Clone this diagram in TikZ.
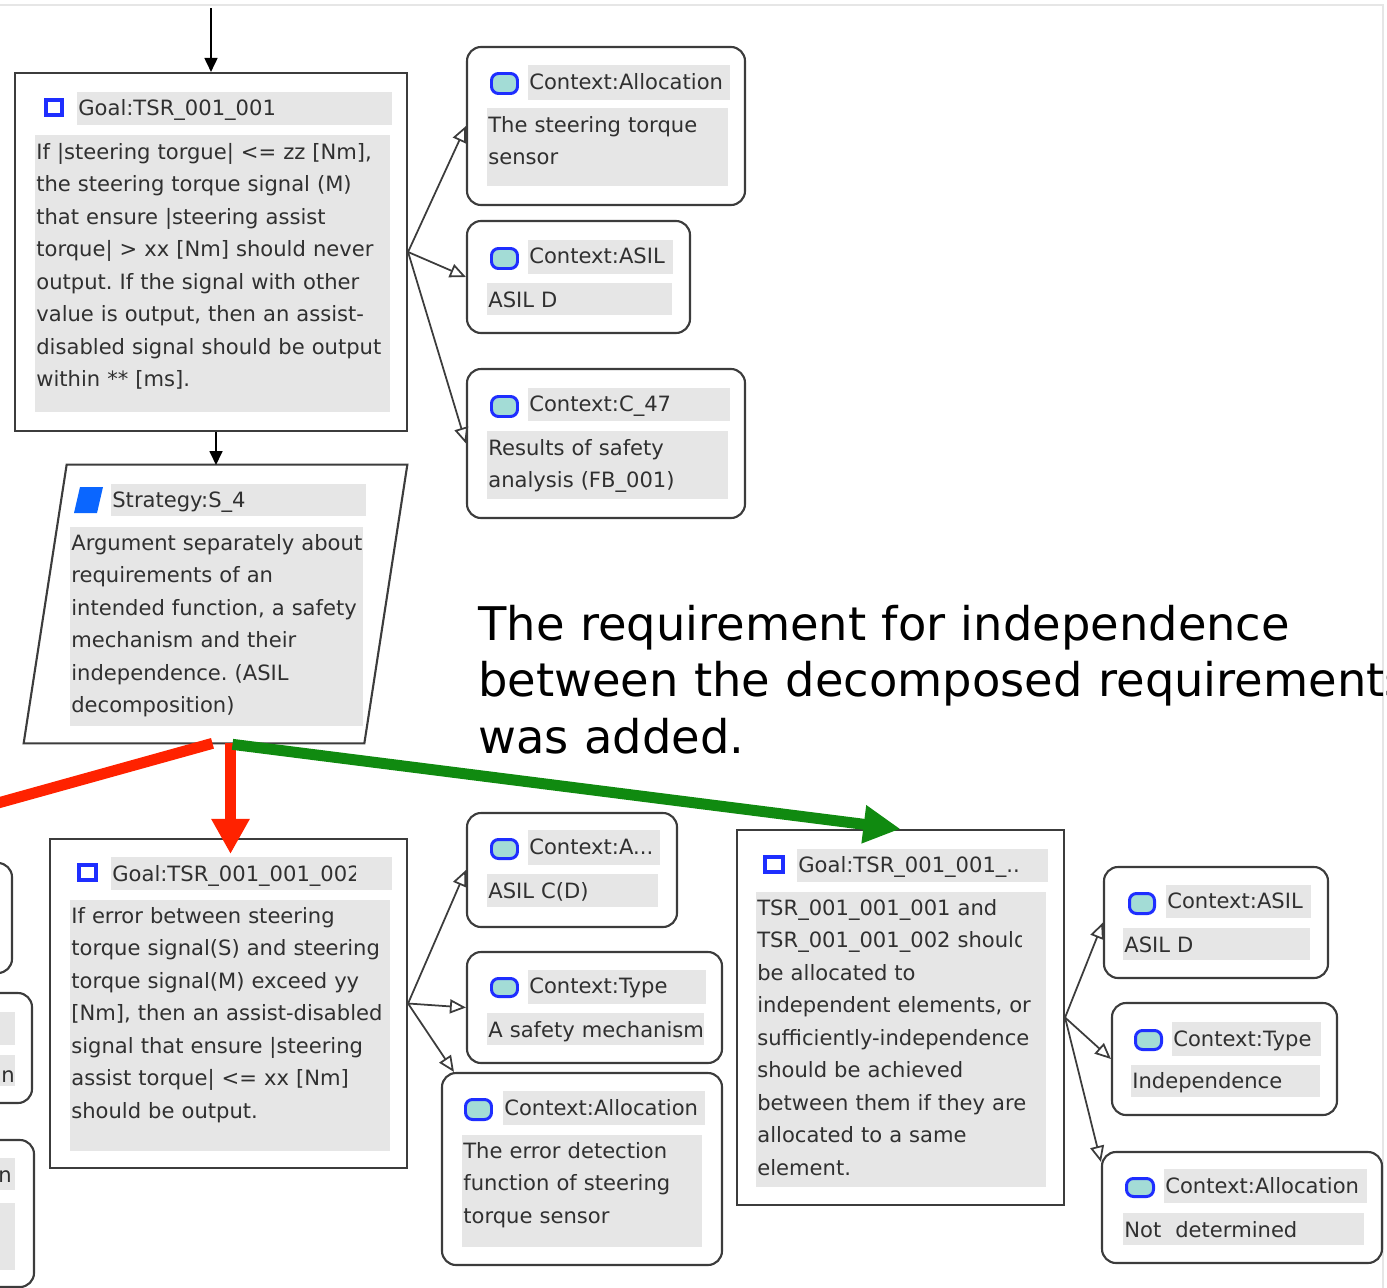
\documentclass[tikz,border=0pt]{standalone}
\usepackage{fontspec}
\setmainfont{DejaVu Sans}
\usetikzlibrary{arrows.meta, fit, calc}

\definecolor{boxline}{HTML}{3C3C3C}
\definecolor{bandgray}{HTML}{E6E6E6}
\definecolor{txtgray}{HTML}{303030}
\definecolor{iconblue}{HTML}{1E2EFF}
\definecolor{iconteal}{HTML}{A3DCD6}
\definecolor{stratblue}{HTML}{0A66FF}
\definecolor{chgred}{HTML}{FF2200}
\definecolor{chggreen}{HTML}{108A10}
\definecolor{framegray}{HTML}{E6E6E6}

\newcommand{\boxfont}{\fontsize{12pt}{18.5pt}\selectfont\frenchspacing}
\newcommand{\notefont}{\fontsize{26.4pt}{32.4pt}\selectfont}

\begin{document}
\begin{tikzpicture}[x=0.02cm, y=-0.02cm,
    goal/.style={draw=boxline, line width=1.2pt, fill=white, inner sep=0pt},
    ctx/.style={goal, rounded corners=8pt},
    band/.style={fill=bandgray},
    txt/.style={anchor=base west, inner sep=0pt, text=txtgray, font=\boxfont, align=left, text width=9cm},
    goalicon/.style={draw=iconblue, line width=2.3pt, fill=white},
    ctxicon/.style={draw=iconblue, line width=1.7pt, fill=iconteal, rounded corners=4pt},
    link/.style={draw=boxline, line width=1pt, -{Triangle[open, length=0.32cm, width=0.28cm]}},
    supp/.style={draw=black, line width=1pt, -{Triangle[length=0.28cm, width=0.26cm]}},
    chg/.style={line width=0.22cm}]
    \useasboundingbox (0,0) rectangle (1387,1288);
    \clip (0,0) rectangle (1387,1288);
    \draw[framegray, line width=0.8pt] (0,5) -- (1383,5) -- (1383,1288);

    % goal TSR_001_001
    \node[goal, fit={(15,73) (407,431)}] (g1) {};
    \draw[goalicon] (46,100) rectangle (62,115);
    \fill[band] (77,92) rectangle (392,125);
    \fill[band] (35,135) rectangle (390,412);
    \node[txt] (g1t) at (78,115) {Goal:TSR\_001\_001};
    \node[txt] (g1b) at (36,159) {If |steering torgue| <= zz [Nm],\\ the steering torque signal (M)\\ that ensure |steering assist\\ torque| > xx [Nm] should never\\ output. If the signal with other\\ value is output, then an assist-\\ disabled signal should be output\\ within ** [ms].};

    % strategy S_4
    \node[fit={(24,465) (407,743)}, inner sep=0pt] (s1) {};
    \draw[goal] ($(s1.north west)+(43,0)$) -- (s1.north east) -- ($(s1.south east)+(-43,0)$) -- (s1.south west) -- cycle;
    \fill[stratblue] (80,487) -- (103,487) -- (97,513) -- (74,513) -- cycle;
    \fill[band] (111,484) rectangle (366,516);
    \fill[band] (70,527) rectangle (363,726);
    \node[txt] (s1t) at (112,507) {Strategy:S\_4};
    \node[txt] (s1b) at (71,550) {Argument separately about\\ requirements of an\\ intended function, a safety\\ mechanism and their\\ independence. (ASIL\\ decomposition)};

    % contexts of TSR_001_001
    \node[ctx, fit={(467,47) (745,205)}] (c1) {};
    \draw[ctxicon] (491.5,73.5) rectangle (517.5,93.5);
    \fill[band] (528,65) rectangle (730,100);
    \fill[band] (487,108) rectangle (728,186);
    \node[txt] (c1t) at (529,89) {Context:Allocation};
    \node[txt] (c1b) at (488,132) {The steering torque\\ sensor};

    \node[ctx, fit={(467,221) (690,333)}] (c2) {};
    \draw[ctxicon] (491.5,248.5) rectangle (517.5,268.5);
    \fill[band] (528,240) rectangle (673,274);
    \fill[band] (487,283) rectangle (672,315);
    \node[txt] (c2t) at (529,263) {Context:ASIL};
    \node[txt] (c2b) at (488,307) {ASIL D};

    \node[ctx, fit={(467,369) (745,518)}] (c3) {};
    \draw[ctxicon] (491.5,396.5) rectangle (517.5,416.5);
    \fill[band] (528,388) rectangle (730,421);
    \fill[band] (487,431) rectangle (728,499);
    \node[txt] (c3t) at (529,411) {Context:C\_47};
    \node[txt] (c3b) at (488,455) {Results of safety\\ analysis (FB\_001)};

    % boxes cut off at the left edge
    \node[ctx, fit={(-60,863) (12,973)}] (la) {};
    \node[ctx, fit={(-60,993) (32,1103)}] (lb) {};
    \fill[band] (-60,1012) rectangle (15,1045);
    \fill[band] (-60,1055) rectangle (15,1086);
    \node[txt, anchor=base east, text width=] (lbt) at (15,1082) {on};
    \node[ctx, fit={(-60,1140) (34,1287)}] (lc) {};
    \fill[band] (-60,1158) rectangle (15,1190);
    \fill[band] (-60,1203) rectangle (15,1270);
    \node[txt, anchor=base east, text width=] (lct) at (12,1182) {n};

    % goal TSR_001_001_002
    \node[goal, fit={(50,839) (407,1168)}] (g2) {};
    \draw[goalicon] (79,865) rectangle (96,880);
    \fill[band] (111,857) rectangle (392,890);
    \fill[band] (70,900) rectangle (390,1151);
    \begin{scope}
        \clip (100,850) rectangle (355,895);
        \node[txt] (g2t) at (112,881) {Goal:TSR\_001\_001\_002};
    \end{scope}
    \node[txt] (g2b) at (71,923) {If error between steering\\ torque signal(S) and steering\\ torque signal(M) exceed yy\\ {}[Nm], then an assist-disabled\\ signal that ensure |steering\\ assist torque| <= xx [Nm]\\ should be output.};

    \node[ctx, fit={(467,813) (677,927)}] (c4) {};
    \draw[ctxicon] (491.5,839.5) rectangle (517.5,858.5);
    \fill[band] (528,830) rectangle (660,865);
    \fill[band] (487,874) rectangle (658,907);
    \node[txt] (c4t) at (529,854) {Context:A...};
    \node[txt] (c4b) at (488,898) {ASIL C(D)};

    \node[ctx, fit={(467,952) (722,1063)}] (c5) {};
    \draw[ctxicon] (491.5,978.5) rectangle (517.5,996.5);
    \fill[band] (528,970) rectangle (706,1004);
    \fill[band] (487,1013) rectangle (704,1045);
    \node[txt] (c5t) at (529,993) {Context:Type};
    \node[txt] (c5b) at (488,1037) {A safety mechanism};

    \node[ctx, fit={(442,1073) (722,1265)}] (c6) {};
    \draw[ctxicon] (465.5,1099.5) rectangle (491.5,1119.5);
    \fill[band] (503,1091) rectangle (705,1125);
    \fill[band] (462,1135) rectangle (702,1247);
    \node[txt] (c6t) at (504,1115) {Context:Allocation};
    \node[txt] (c6b) at (463,1158) {The error detection\\ function of steering\\ torque sensor};

    % goal for independence
    \node[goal, fit={(737,830) (1064,1205)}] (g3) {};
    \draw[goalicon] (765,857) rectangle (783,872);
    \fill[band] (797,849) rectangle (1048,882);
    \fill[band] (756,892) rectangle (1046,1187);
    \node[txt] (g3t) at (798,872) {Goal:TSR\_001\_001\_..};
    \begin{scope}
        \clip (750,890) -- (1046,890) -- (1046,924) -- (1021,924) -- (1021,956) -- (1046,956) -- (1046,1190) -- (750,1190) -- cycle;
        \node[txt] (g3b) at (757,915) {TSR\_001\_001\_001 and\\ TSR\_001\_001\_002 should\\ be allocated to\\ independent elements, or\\ sufficiently-independence\\ should be achieved\\ between them if they are\\ allocated to a same\\ element.};
    \end{scope}

    \node[ctx, fit={(1104,867) (1328,978)}] (c7) {};
    \draw[ctxicon] (1129.5,893.5) rectangle (1154.5,913.5);
    \fill[band] (1166,885) rectangle (1311,918);
    \fill[band] (1123,928) rectangle (1310,960);
    \node[txt] (c7t) at (1167,908) {Context:ASIL};
    \node[txt] (c7b) at (1124,952) {ASIL D};

    \node[ctx, fit={(1112,1003) (1337,1115)}] (c8) {};
    \draw[ctxicon] (1135.5,1030.5) rectangle (1161.5,1049.5);
    \fill[band] (1172,1022) rectangle (1321,1056);
    \fill[band] (1131,1065) rectangle (1320,1097);
    \node[txt] (c8t) at (1173,1046) {Context:Type};
    \node[txt] (c8b) at (1132,1088) {Independence};

    \node[ctx, fit={(1102,1152) (1382,1263)}] (c9) {};
    \draw[ctxicon] (1126.5,1178.5) rectangle (1153.5,1196.5);
    \fill[band] (1164,1169) rectangle (1367,1203);
    \fill[band] (1123,1213) rectangle (1364,1245);
    \node[txt] (c9t) at (1165,1193) {Context:Allocation};
    \node[txt] (c9b) at (1124,1237) {Not\ \ determined};

    % connectors
    \coordinate (topin) at (211,8);
    \draw[supp] (topin) -- (g1.north);
    \coordinate (s1in) at (216,465);
    \draw[supp] (g1.south -| s1in) -- (s1in);
    \draw[link] (g1.east) -- (c1.west);
    \draw[link] (g1.east) -- (c2.west);
    \draw[link] (g1.east) -- (c3.west);
    \draw[link] (g2.east) -- (c4.west);
    \draw[link] (g2.east) -- (c5.west);
    \draw[link] (g2.east) -- ($(c6.north west)+(13,0)$);
    \draw[link] (g3.east) -- (c7.west);
    \draw[link] (g3.east) -- (c8.west);
    \draw[link] (g3.east) -- ($(c9.north west)+(0,11)$);

    % the changes
    \coordinate (redL) at ($(s1.south)+(-3,0)$);
    \coordinate (redR) at ($(s1.south)+(15,0)$);
    \coordinate (offleft) at (-20,808);
    \coordinate (g2hit) at ($(g2.north)+(2,16)$);
    \draw[chgred, chg] (redL) -- (offleft);
    \draw[chgred, chg, -{Triangle[length=0.7cm, width=0.72cm]}] (redR) -- (g2hit);
    \draw[chggreen, chg, -{Triangle[length=0.74cm, width=0.72cm]}] ($(redR)+(2,1)$) -- (g3.north);

    \node[anchor=base west, inner sep=0pt, font=\notefont, align=left, text width=24cm] (note) at (478,640) {The requirement for independence\\ between the decomposed requirements\\ was added.};
\end{tikzpicture}
\end{document}
